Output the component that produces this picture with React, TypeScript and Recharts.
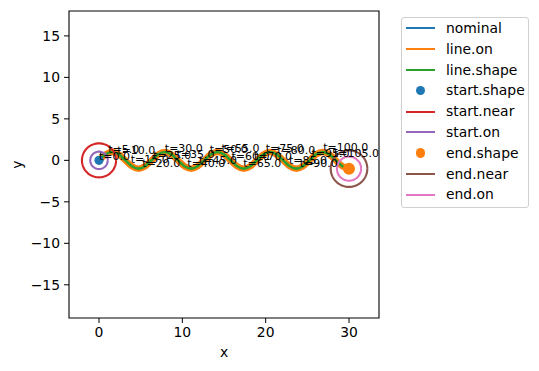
import React from 'react';
import { ComposedChart, Line, Scatter, XAxis, YAxis, ReferenceArea } from 'recharts';

// trajectory (x, y)
const pathX = [0, 0.79, 1.58, 2.37, 3.16, 3.95, 4.74, 5.53, 6.32, 7.11, 7.89, 8.68, 9.47, 10.26, 11.05, 11.84, 12.63, 13.42, 14.21, 15.0, 15.79, 16.58, 17.37, 18.16, 18.95, 19.74, 20.53, 21.32, 22.11, 22.89, 23.68, 24.47, 25.26, 26.05, 26.84, 27.63, 28.42, 29.21, 30.0];
const pathY = [0, 0.71, 1, 0.71, 0, -0.71, -1, -0.71, 0, 0.71, 1, 0.71, 0, -0.71, -1, -0.71, 0, 0.71, 1, 0.71, 0, -0.71, -1, -0.71, 0, 0.71, 1, 0.71, 0, -0.71, -1, -0.71, 0, 0.71, 1, 0.71, 0, -0.71, -1];

// time labels along the trajectory
const labelT = [0, 5, 10, 15, 20, 25, 30, 35, 40, 45, 50, 55, 60, 65, 70, 75, 80, 85, 90, 95, 100, 105];
const labelX = [0, 1.1, 2.2, 3.8, 5.2, 6.5, 7.9, 9.3, 10.6, 12.0, 13.3, 14.7, 15.9, 17.3, 18.6, 20.0, 21.4, 22.8, 24.1, 25.5, 26.9, 28.2];
const labelY = [0, 0.85, 0.8, -0.35, -0.85, 0.15, 1.0, 0.3, -0.85, -0.45, 0.85, 1.05, 0.05, -0.75, 0.05, 1.05, 0.75, -0.4, -0.75, 0.35, 1.1, 0.35];

// start / end markers
const startShape = [{ x: 0, y: 0 }];
const endShape = [{ x: 30, y: -1 }];

// tolerance circles
const circleNames = ['start.near', 'start.on', 'end.near', 'end.on'];
const circleCx = [0, 0, 30, 30];
const circleCy = [0, 0, -1, -1];
const circleR = [2.05, 1.05, 2.2, 1.45];
const circleColors = ['#d62728', '#9467bd', '#8c564b', '#e377c2'];

const xTicks = [0, 10, 20, 30];
const yTicks = [-15, -10, -5, 0, 5, 10, 15];
const xDomain = [-3.6, 33.6];
const yDomain = [-19, 18];

const legendNames = ['nominal', 'line.on', 'line.shape', 'start.shape', 'start.near', 'start.on', 'end.shape', 'end.near', 'end.on'];
const legendColors = ['#1f77b4', '#ff7f0e', '#2ca02c', '#1f77b4', '#d62728', '#9467bd', '#ff7f0e', '#8c564b', '#e377c2'];
const legendKinds = ['line', 'line', 'line', 'dot', 'line', 'line', 'dot', 'line', 'line'];

const FONT = '"DejaVu Sans", sans-serif';

const pathData = pathX.map((x, i) => ({ x, y: pathY[i] }));
const labelData = labelT.map((t, i) => ({ x: labelX[i], y: labelY[i], t }));

const circleData = (i: number) => {
  const pts: { x: number; y: number }[] = [];
  for (let a = 0; a <= 360; a += 5) {
    const rad = (a * Math.PI) / 180;
    pts.push({ x: circleCx[i] + circleR[i] * Math.cos(rad), y: circleCy[i] + circleR[i] * Math.sin(rad) });
  }
  return pts;
};

const fmt = (v: number) => String(v).replace('-', '\u2212');

const XLabel = (props: any) => {
  const vb = props.viewBox || {};
  const cx = vb.x + vb.width / 2;
  return (
    <text x={cx} y={357} textAnchor="middle" fontFamily={FONT} fontSize={13.9} fill="#000">x</text>
  );
};

const YLabel = (props: any) => {
  const vb = props.viewBox || {};
  const cy = vb.y + vb.height / 2;
  const cx = 17;
  return (
    <text x={cx} y={cy} transform={`rotate(-90 ${cx} ${cy})`} textAnchor="middle" dominantBaseline="central" fontFamily={FONT} fontSize={13.9} fill="#000">y</text>
  );
};

const dotShape = (color: string, r: number) => (p: any) => <circle cx={p.cx} cy={p.cy} r={r} fill={color} />;

const textShape = (p: any) => (
  <text x={p.cx} y={p.cy} fontFamily={FONT} fontSize={11} fill="#000">{`t=${p.payload.t.toFixed(1)}`}</text>
);

export default function App() {
  return (
    <div style={{ position: 'absolute', left: 0, top: 0, width: 539, height: 371, background: '#fff' }}>
      <ComposedChart width={539} height={371} margin={{ top: 11, right: 160, left: 0, bottom: 0 }} data={pathData}>
        <XAxis
          type="number"
          dataKey="x"
          domain={xDomain}
          ticks={xTicks}
          allowDataOverflow
          height={53}
          axisLine={false}
          tickLine={{ stroke: '#000', strokeWidth: 1 }}
          tickSize={5}
          tickMargin={4}
          tickFormatter={fmt}
          tick={{ fontFamily: FONT, fontSize: 13.9, fill: '#000' }}
          label={<XLabel />}
        />
        <YAxis
          type="number"
          dataKey="y"
          domain={yDomain}
          ticks={yTicks}
          allowDataOverflow
          width={69}
          axisLine={false}
          tickLine={{ stroke: '#000', strokeWidth: 1 }}
          tickSize={5}
          tickMargin={4}
          tickFormatter={fmt}
          tick={{ fontFamily: FONT, fontSize: 13.9, fill: '#000' }}
          label={<YLabel />}
        />
        <Scatter data={startShape} dataKey="y" fill="#1f77b4" shape={dotShape('#1f77b4', 4.6)} isAnimationActive={false} />
        <Scatter data={endShape} dataKey="y" fill="#ff7f0e" shape={dotShape('#ff7f0e', 6)} isAnimationActive={false} />
        <Line data={pathData} dataKey="y" type="monotone" stroke="#1f77b4" strokeWidth={1.5} dot={false} activeDot={false} isAnimationActive={false} />
        <Line data={pathData} dataKey="y" type="monotone" stroke="#ff7f0e" strokeWidth={6.5} dot={false} activeDot={false} isAnimationActive={false} />
        <Line data={pathData} dataKey="y" type="monotone" stroke="#2ca02c" strokeWidth={2.6} dot={false} activeDot={false} isAnimationActive={false} />
        {circleNames.map((n, i) => (
          <Line key={n} data={circleData(i)} dataKey="y" type="linear" stroke={circleColors[i]} strokeWidth={2.1} dot={false} activeDot={false} isAnimationActive={false} />
        ))}
        <Scatter data={labelData} dataKey="y" shape={textShape} isAnimationActive={false} />
        <ReferenceArea x1={xDomain[0]} x2={xDomain[1]} y1={yDomain[0]} y2={yDomain[1]} fill="none" fillOpacity={0} stroke="#000" strokeWidth={1.1} strokeOpacity={1} />
      </ComposedChart>
      <div
        style={{
          position: 'absolute',
          left: 401,
          top: 17,
          width: 128,
          height: 191,
          border: '1px solid #d0d0d0',
          borderRadius: 3,
          background: 'rgba(255,255,255,0.8)',
          fontFamily: FONT,
          fontSize: 13.9,
          color: '#000',
          paddingTop: 0,
          boxSizing: 'border-box',
        }}
      >
        {legendNames.map((n, i) => (
          <div key={n} style={{ position: 'relative', height: 20.8, lineHeight: '20.8px', whiteSpace: 'nowrap' }}>
            {legendKinds[i] === 'line' ? (
              <div style={{ position: 'absolute', left: 4, top: 9.4, width: 29, height: 2, background: legendColors[i] }} />
            ) : (
              <div style={{ position: 'absolute', left: 14, top: 5.7, width: 9.4, height: 9.4, borderRadius: '50%', background: legendColors[i] }} />
            )}
            <span style={{ position: 'absolute', left: 44, top: 0 }}>{n}</span>
          </div>
        ))}
      </div>
    </div>
  );
}
